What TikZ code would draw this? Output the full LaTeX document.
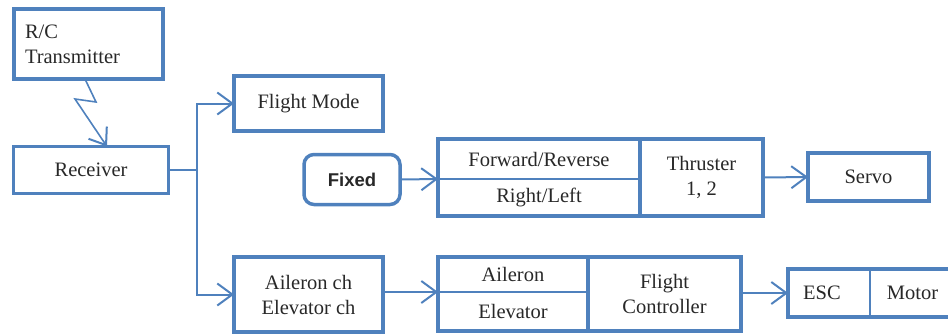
\documentclass[tikz,border=0pt]{standalone}
\usepackage{fontspec}
\setmainfont{Liberation Serif}
\newfontfamily\boldsans{Liberation Sans}
\usetikzlibrary{arrows.meta,positioning}
\definecolor{boxblue}{RGB}{79,129,189}
\definecolor{inkgray}{RGB}{40,40,40}

\begin{document}
\begin{tikzpicture}[x=1pt,y=-1pt,
    main node/.style={draw=boxblue,line width=3.5pt,inner sep=0pt,outer sep=0pt,align=center,text=inkgray,font=\rmfamily\fontsize{20.5}{25}\selectfont},
    cell node/.style={main node,line width=2pt},
    frame/.style={draw=boxblue,line width=3.5pt},
    link/.style={draw=boxblue,line width=2pt},
    arrow/.style={link,-{Straight Barb[length=15pt,width=22pt,line width=2pt]}}]
    \useasboundingbox (0,0) rectangle (948,335);

    % left column
    \node[main node,minimum width=149,minimum height=70,align=left,text width=127,inner xsep=11pt] (tx) at (88.5,44) {R/C\\Transmitter};
    \node[main node,minimum width=155,minimum height=47] (rx) at (91,170) {Receiver};
    \coordinate (split) at (197,170);
    \coordinate (z1) at (96,102);
    \coordinate (z2) at (75,99);

    % middle column
    \node[main node,minimum width=149,minimum height=55] (fm) at (308.5,103.5) {Flight Mode};
    \node[main node,rounded corners=10pt,minimum width=96,minimum height=50,font=\boldsans\bfseries\fontsize{18.5}{22}\selectfont] (fix) at (352,179.5) {Fixed};
    \node[main node,minimum width=149,minimum height=75] (ach) at (308.5,294.5) {Aileron ch\\Elevator ch};

    % fixed wing branch
    \node[cell node,minimum width=202,minimum height=40] (fwd) at (539,159) {Forward/Reverse};
    \node[cell node,minimum width=202,minimum height=37,below=0pt of fwd] (rl) {Right/Left};
    \node[main node,minimum width=123,minimum height=77,anchor=north west] (thr) at (fwd.north east) {Thruster\\1, 2};
    \draw[frame] (fwd.north west) rectangle (thr.south east);
    \node[main node,minimum width=121,minimum height=48] (servo) at (868.5,177) {Servo};

    % flight controller branch
    \node[cell node,minimum width=150,minimum height=35] (ail) at (513,274.5) {Aileron};
    \node[cell node,minimum width=150,minimum height=39,below=0pt of ail] (elev) {Elevator};
    \node[main node,minimum width=153,minimum height=74,anchor=north west] (fc) at (ail.north east) {Flight\\Controller};
    \draw[frame] (ail.north west) rectangle (fc.south east);
    \node[cell node,minimum width=82,minimum height=48] (esc) at (829,293) {ESC\hspace*{14pt}};
    \node[cell node,minimum width=85,minimum height=48,right=0pt of esc] (motor) {Motor};
    \draw[frame] (esc.north west) rectangle (motor.south east);

    % connectors
    \draw[arrow,line width=1.6pt] ([xshift=-3.5pt]tx.south) -- (z1) -- (z2) -- ([xshift=16pt]rx.north);
    \draw[link] (rx.east) -- (split);
    \draw[arrow] (split) |- (fm.west);
    \draw[arrow] (split) |- (ach.west);
    \draw[arrow] (fix.east) -- (fwd.south west);
    \draw[arrow] (thr.east) -- (servo.west);
    \draw[arrow] (ach.east |- ail.south west) -- (ail.south west);
    \draw[arrow] (fc.east |- esc.west) -- (esc.west);
\end{tikzpicture}
\end{document}
